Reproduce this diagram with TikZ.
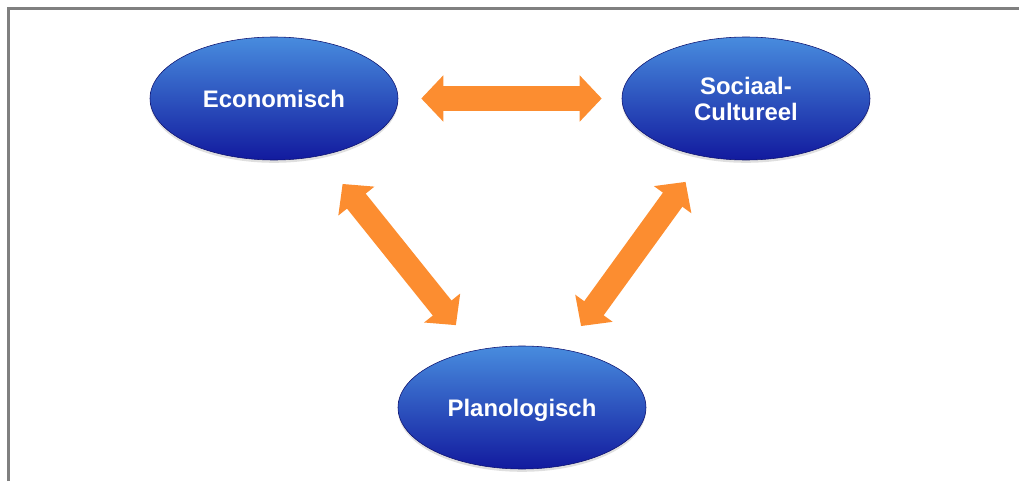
\documentclass[tikz,border=0pt]{standalone}
\usepackage{fontspec}
\setmainfont{Liberation Sans}
\usepackage{xcolor}
\usepackage{tikz}
\usetikzlibrary{arrows.meta}
\usetikzlibrary{positioning,shapes.geometric,shadows}
\definecolor{ovaltop}{RGB}{72,140,222}
\definecolor{ovalmid}{RGB}{34,74,198}
\definecolor{ovalbot}{RGB}{18,26,158}
\definecolor{arroworange}{RGB}{252,141,48}
\definecolor{framegray}{RGB}{128,128,128}
\tikzset{
	ovalnode/.style={ellipse, draw=ovalbot!70!black, thin, top color=ovaltop, middle color=ovalmid, bottom color=ovalbot, minimum width=6.2cm, minimum height=3.075cm, inner sep=0pt, align=center, text depth=0pt, text=white, font=\fontsize{17}{18.5}\selectfont\bfseries, drop shadow={opacity=0.25, shadow xshift=0pt, shadow yshift=-0.07cm}}
}
\tikzset{
	dblarrow/.style={draw=arroworange, line width=0.6cm, {Triangle[width=1.125cm,length=0.55cm]}-{Triangle[width=1.125cm,length=0.55cm]}}
}

\begin{document}
\begin{tikzpicture}
		\useasboundingbox (0,0) rectangle (25.475,12.025);
		\draw[framegray, line width=0.07cm] (0.2175,0) -- (0.2175,11.807) -- (25.475,11.807);

		\node[ovalnode] at (6.85,9.5625) (eco)     {Economisch};
		\node[ovalnode] at (18.65,9.5625) (soc)    {Sociaal-\\Cultureel};
		\node[ovalnode] at (13.05,1.8375) (plan)   {Planologisch};

		\draw[dblarrow, shorten <=0.575cm, shorten >=0.5cm] (eco) -- (soc);
		\draw[dblarrow, shorten <=0.9cm, shorten >=0.8cm] (eco) -- (plan);
		\draw[dblarrow, shorten <=0.78cm, shorten >=0.72cm] (soc) -- (plan);

	\end{tikzpicture}
\end{document}
